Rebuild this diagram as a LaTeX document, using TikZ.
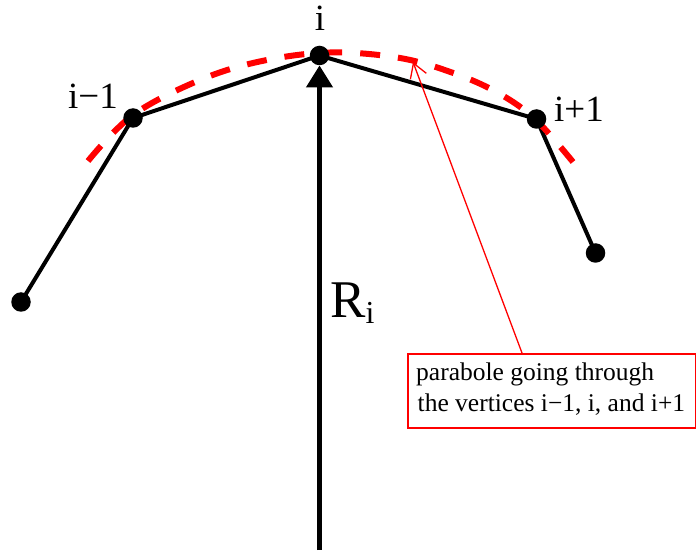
\documentclass[tikz,border=0pt]{standalone}
\usepackage{fontspec}
\setmainfont{Liberation Serif}
\usetikzlibrary{arrows.meta}
\begin{document}
\begin{tikzpicture}[x=1pt,y=-1pt,
  vertex/.style={circle,fill=black,inner sep=0pt,minimum size=19.5pt},
  edge/.style={line width=4pt},
  lbl/.style={inner sep=0pt,font=\fontsize{37}{44}\selectfont},
  note/.style={draw=red,line width=1.5pt,minimum width=288pt,minimum height=74pt,inner sep=0pt},
  notetext/.style={align=left,inner sep=0pt,font=\fontsize{25.5}{31}\selectfont}]
\useasboundingbox (0,0) rectangle (696,553);
% vertices (positions)
\coordinate (c0) at (21,302);
\coordinate (c1) at (133,118);
\coordinate (c2) at (319.5,55.5);
\coordinate (c3) at (536.5,119);
\coordinate (c4) at (595.5,253);
% polyline
\draw[edge] (c0) -- (c1) -- (c2) -- (c3) -- (c4);
% parabola
\draw[red,line width=6pt,dash pattern=on 20pt off 18pt,dash phase=0pt]
  plot[smooth,tension=0.6] coordinates {(88,161) (133,115) (200,80) (262,61) (330,52.5) (400,58) (456,74) (500,94) (536,120) (573,162)};
% dots
\node[vertex] (p0) at (c0) {};
\node[vertex] (p1) at (c1) {};
\node[vertex] (p2) at (c2) {};
\node[vertex] (p3) at (c3) {};
\node[vertex] (p4) at (c4) {};
% radius arrow
\coordinate (bot) at (319.5,550);
\draw[line width=4.5pt,-{Triangle[width=26pt,length=22pt]}] (bot) -- (p2);
% labels
\node[lbl,anchor=base] (li) at (320,31) {i};
\node[lbl,anchor=base west] (lim) at (68,109) {i−1};
\node[lbl,anchor=base west] (lip) at (554,122) {i+1};
\node[inner sep=0pt,anchor=base west,font=\fontsize{53}{60}\selectfont] (R) at (330,317)
  {R\raisebox{-6pt}{\fontsize{32}{36}\selectfont i}};
% annotation
\node[note,anchor=north west] (box) at (407,353) {};
\node[notetext,anchor=base west] (txt) at (416,411) {parabole going through\\\hspace*{1.5pt}the vertices i−1, i, and i+1};
\coordinate (tip) at (413,62);
\draw[red,line width=1.3pt,-{Straight Barb[length=14pt,width=17pt]}] ([xshift=115pt]box.north west) -- (tip);
\end{tikzpicture}
\end{document}
